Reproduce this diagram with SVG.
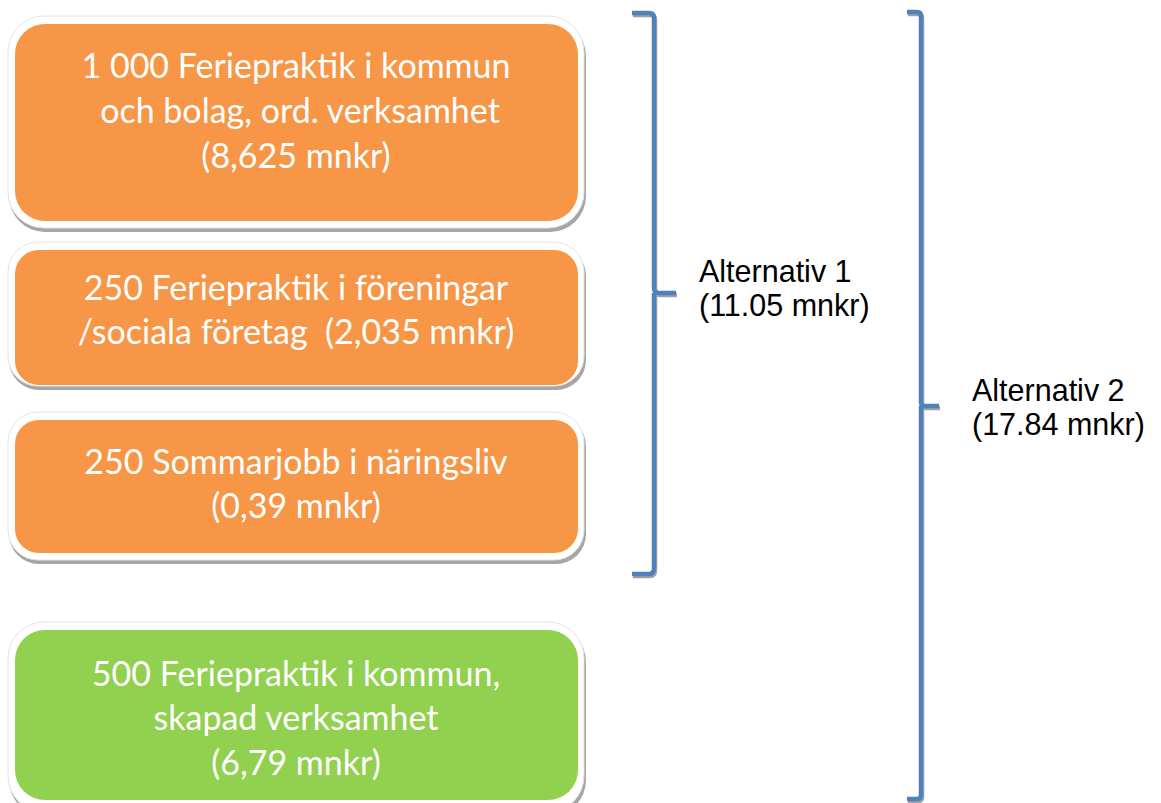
<svg xmlns="http://www.w3.org/2000/svg" width="1161" height="803" viewBox="0 0 1161 803">
<style>
.frame{fill:#ffffff;stroke:#e4e4e4;stroke-width:1}
.shadow{fill:#a6a6a6}
.orange{fill:#f79646}
.green{fill:#92d050}
.t{font-family:Lato,"Open Sans",sans-serif;font-size:34px;fill:#ffffff;text-anchor:middle}
.lbl{font-family:"Liberation Sans",Arial,sans-serif;font-size:30.5px;fill:#000000}
.br{fill:none;stroke:#4f81bd;stroke-width:4.5;stroke-linejoin:round}
.brs{fill:none;stroke:#a0a0a0;stroke-width:4.5;stroke-linejoin:round}
</style>
<g id="node1">
<rect class="shadow" x="9" y="20" width="577" height="212" rx="36"/>
<rect class="frame" x="8" y="16" width="576" height="212" rx="36"/>
<rect class="orange" x="15" y="24" width="563" height="197" rx="30"/>
<text class="t" x="296" y="78">1 000 Feriepraktik i kommun</text>
<text class="t" x="300" y="123">och bolag, ord. verksamhet</text>
<text class="t" x="296" y="168">(8,625 mnkr)</text>
</g>
<g id="node2">
<rect class="shadow" x="9" y="246" width="577" height="144" rx="30"/>
<rect class="frame" x="8" y="242" width="576" height="144" rx="30"/>
<rect class="orange" x="15" y="250" width="563" height="135" rx="24"/>
<text class="t" x="296" y="300">250 Feriepraktik i föreningar</text>
<text class="t" x="296" y="344">/sociala företag&#160; (2,035 mnkr)</text>
</g>
<g id="node3">
<rect class="shadow" x="9" y="416" width="577" height="148" rx="30"/>
<rect class="frame" x="8" y="412" width="576" height="148" rx="30"/>
<rect class="orange" x="15" y="420" width="563" height="133" rx="24"/>
<text class="t" x="296" y="474">250 Sommarjobb i näringsliv</text>
<text class="t" x="296" y="518">(0,39 mnkr)</text>
</g>
<g id="node4">
<rect class="shadow" x="9" y="626" width="577" height="190" rx="36"/>
<rect class="frame" x="8" y="622" width="576" height="190" rx="36"/>
<rect class="green" x="15" y="630" width="563" height="170" rx="30"/>
<text class="t" x="296" y="686">500 Feriepraktik i kommun,</text>
<text class="t" x="296" y="730">skapad verksamhet</text>
<text class="t" x="296" y="775">(6,79 mnkr)</text>
</g>
<g id="connectors">
<path class="brs" d="M633 15 H650 Q655 15 655 20 V290 Q655 295 660 295 H677 M655 295 V570 Q655 576 650 576 H633"/>
<path class="br" d="M632 13 H649 Q654 13 654 18 V288 Q654 293 659 293 H676 M654 293 V568 Q654 574 649 574 H632"/>
<path class="brs" d="M908 14 H918 Q922 14 922 18 V404 Q922 408 926 408 H940 M922 408 V797 Q922 801 918 801 H908"/>
<path class="br" d="M907 12 H917 Q921 12 921 16 V402 Q921 406 925 406 H939 M921 406 V795 Q921 799 917 799 H907"/>
</g>
<g id="labels">
<text class="lbl" x="699" y="282">Alternativ 1</text>
<text class="lbl" x="699" y="316">(11.05 mnkr)</text>
<text class="lbl" x="972" y="401">Alternativ 2</text>
<text class="lbl" x="972" y="435">(17.84 mnkr)</text>
</g>
</svg>
